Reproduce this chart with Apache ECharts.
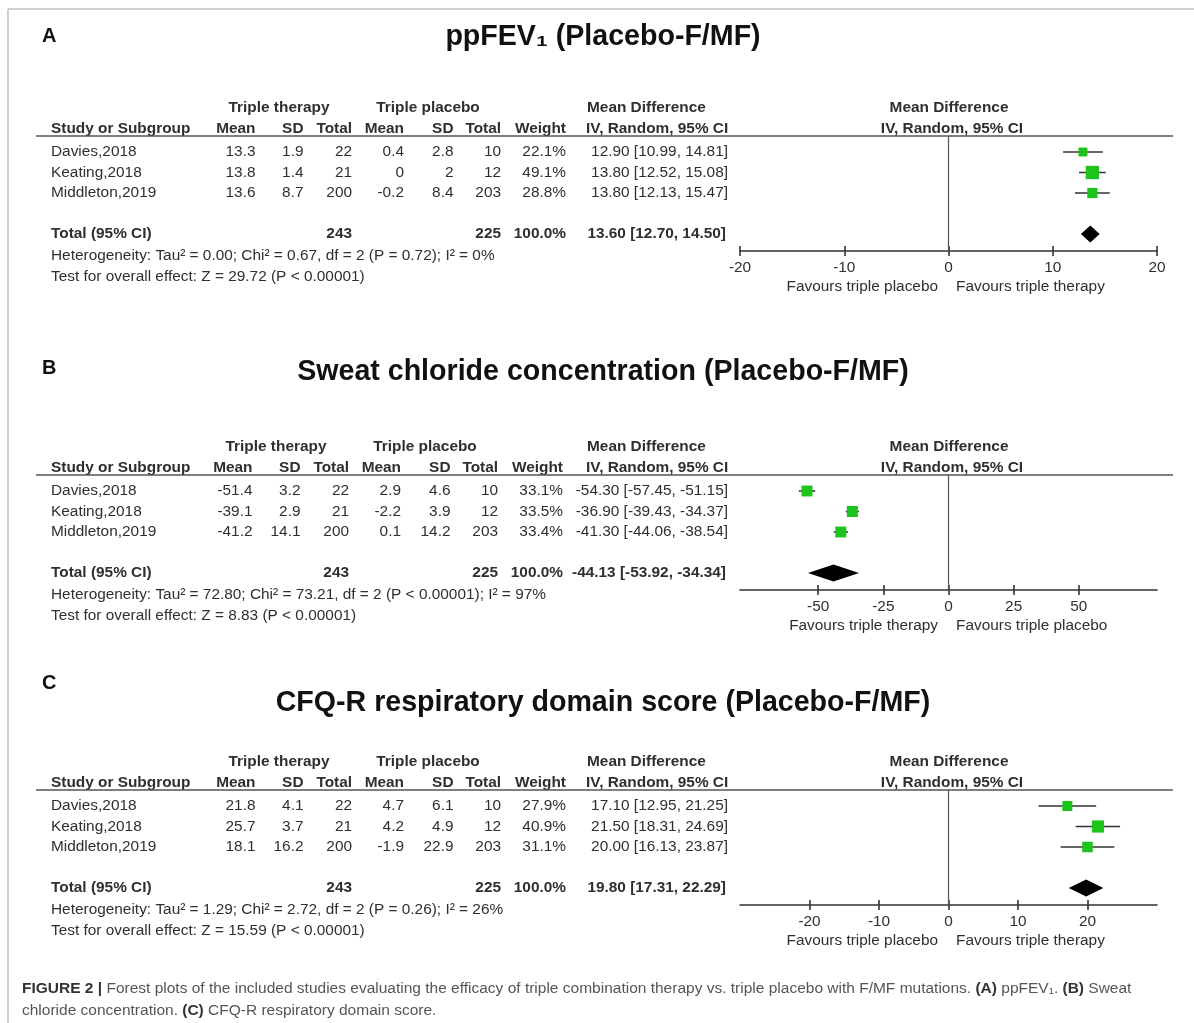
<!DOCTYPE html>
<html><head><meta charset="utf-8">
<script src="https://cdn.jsdelivr.net/npm/echarts@6/dist/echarts.min.js"></script>
<style>html,body{margin:0;padding:0;background:#fff}#c{width:1194px;height:1023px}</style>
</head><body><div id="c"></div><script>
// ---------- DATA ----------
const studies = ['Davies,2018', 'Keating,2018', 'Middleton,2019'];

// Panel A: ppFEV1
const aTitle = 'ppFEV\u2081 (Placebo-F/MF)';
const aTherapyMean = [13.3, 13.8, 13.6], aTherapySD = [1.9, 1.4, 8.7], aTherapyN = [22, 21, 200];
const aPlaceboMean = [0.4, 0, -0.2], aPlaceboSD = [2.8, 2, 8.4], aPlaceboN = [10, 12, 203];
const aWeight = [22.1, 49.1, 28.8];
const aMD = [12.90, 13.80, 13.80], aLow = [10.99, 12.52, 12.13], aHigh = [14.81, 15.08, 15.47];
const aTotalN = [243, 225], aTotalMD = [13.60, 12.70, 14.50];
const aHet = 'Heterogeneity: Tau\u00b2 = 0.00; Chi\u00b2 = 0.67, df = 2 (P = 0.72); I\u00b2 = 0%';
const aTest = 'Test for overall effect: Z = 29.72 (P < 0.00001)';
const aTicks = [-20, -10, 0, 10, 20], aRange = [-20, 20];
const aFavours = ['Favours triple placebo', 'Favours triple therapy'];

// Panel B: Sweat chloride
const bTitle = 'Sweat chloride concentration (Placebo-F/MF)';
const bTherapyMean = [-51.4, -39.1, -41.2], bTherapySD = [3.2, 2.9, 14.1], bTherapyN = [22, 21, 200];
const bPlaceboMean = [2.9, -2.2, 0.1], bPlaceboSD = [4.6, 3.9, 14.2], bPlaceboN = [10, 12, 203];
const bWeight = [33.1, 33.5, 33.4];
const bMD = [-54.30, -36.90, -41.30], bLow = [-57.45, -39.43, -44.06], bHigh = [-51.15, -34.37, -38.54];
const bTotalN = [243, 225], bTotalMD = [-44.13, -53.92, -34.34];
const bHet = 'Heterogeneity: Tau\u00b2 = 72.80; Chi\u00b2 = 73.21, df = 2 (P < 0.00001); I\u00b2 = 97%';
const bTest = 'Test for overall effect: Z = 8.83 (P < 0.00001)';
const bTicks = [-50, -25, 0, 25, 50], bRange = [-80, 80];
const bFavours = ['Favours triple therapy', 'Favours triple placebo'];

// Panel C: CFQ-R
const cTitle = 'CFQ-R respiratory domain score (Placebo-F/MF)';
const cTherapyMean = [21.8, 25.7, 18.1], cTherapySD = [4.1, 3.7, 16.2], cTherapyN = [22, 21, 200];
const cPlaceboMean = [4.7, 4.2, -1.9], cPlaceboSD = [6.1, 4.9, 22.9], cPlaceboN = [10, 12, 203];
const cWeight = [27.9, 40.9, 31.1];
const cMD = [17.10, 21.50, 20.00], cLow = [12.95, 18.31, 16.13], cHigh = [21.25, 24.69, 23.87];
const cTotalN = [243, 225], cTotalMD = [19.80, 17.31, 22.29];
const cHet = 'Heterogeneity: Tau\u00b2 = 1.29; Chi\u00b2 = 2.72, df = 2 (P = 0.26); I\u00b2 = 26%';
const cTest = 'Test for overall effect: Z = 15.59 (P < 0.00001)';
const cTicks = [-20, -10, 0, 10, 20], cRange = [-30, 30];
const cFavours = ['Favours triple placebo', 'Favours triple therapy'];

const panelLetters = ['A', 'B', 'C'];
const captionLine1 = '{b|FIGURE 2 |} Forest plots of the included studies evaluating the efficacy of triple combination therapy vs. triple placebo with F/MF mutations. {b|(A)} ppFEV\u2081. {b|(B)} Sweat';
const captionLine2 = 'chloride concentration. {b|(C)} CFQ-R respiratory domain score.';

// ---------- BUILD ----------
const FONT = '"Liberation Sans", Arial, Helvetica, sans-serif';
const TXT = '#2f2f2f';
const FS = 15.4;
const panels = [
  {title: aTitle, tm: aTherapyMean, ts: aTherapySD, tn: aTherapyN, pm: aPlaceboMean, ps: aPlaceboSD, pn: aPlaceboN,
   w: aWeight, md: aMD, lo: aLow, hi: aHigh, totN: aTotalN, tot: aTotalMD, het: aHet, test: aTest, ticks: aTicks, range: aRange, fav: aFavours,
   h1: 108, titleY: 37, letterY: 36, dx: 0},
  {title: bTitle, tm: bTherapyMean, ts: bTherapySD, tn: bTherapyN, pm: bPlaceboMean, ps: bPlaceboSD, pn: bPlaceboN,
   w: bWeight, md: bMD, lo: bLow, hi: bHigh, totN: bTotalN, tot: bTotalMD, het: bHet, test: bTest, ticks: bTicks, range: bRange, fav: bFavours,
   h1: 447, titleY: 372, letterY: 368, dx: -3},
  {title: cTitle, tm: cTherapyMean, ts: cTherapySD, tn: cTherapyN, pm: cPlaceboMean, ps: cPlaceboSD, pn: cPlaceboN,
   w: cWeight, md: cMD, lo: cLow, hi: cHigh, totN: cTotalN, tot: cTotalMD, het: cHet, test: cTest, ticks: cTicks, range: cRange, fav: cFavours,
   h1: 762, titleY: 703, letterY: 683, dx: 0}
];

const ROW = 20.5;
const graphics = [];
function T(x, y, text, o) {
  o = o || {};
  graphics.push({type: 'text', x: x, y: y, silent: true, scaleX: o.scaleX || 1,
    style: {text: text, fill: o.fill || TXT, fontSize: o.size || FS, fontFamily: FONT, fontWeight: o.bold ? 'bold' : 'normal',
      align: o.align || 'left', verticalAlign: 'middle', rich: o.rich}});
}
function L(x1, y1, x2, y2, color, width) {
  graphics.push({type: 'line', silent: true, shape: {x1, y1, x2, y2}, style: {stroke: color, lineWidth: width}});
}

// frame
L(8, 9, 1194, 9, '#cfcfcf', 2);
L(8, 9, 8, 1023, '#cfcfcf', 2);

const grids = [], xAxes = [], yAxes = [], series = [];
const colR = [255.5, 303.5, 352, 404, 453.5, 501, 566];
panels.forEach((p, i) => {
  const h1 = p.h1, dx = p.dx;
  T(42, p.letterY, panelLetters[i], {bold: true, size: 20, fill: '#111'});
  T(603, p.titleY, p.title, {bold: true, size: 28.6, align: 'center', fill: '#111'});
  // header rows
  T(279 + dx, h1, 'Triple therapy', {bold: true, align: 'center'});
  T(428 + dx, h1, 'Triple placebo', {bold: true, align: 'center'});
  T(587, h1, 'Mean Difference', {bold: true});
  T(949, h1, 'Mean Difference', {bold: true, align: 'center'});
  const h2 = h1 + 21;
  T(51, h2, 'Study or Subgroup', {bold: true});
  ['Mean', 'SD', 'Total', 'Mean', 'SD', 'Total', 'Weight'].forEach((s, k) => T(colR[k] + dx, h2, s, {bold: true, align: 'right'}));
  T(586, h2, 'IV, Random, 95% CI', {bold: true});
  T(952, h2, 'IV, Random, 95% CI', {bold: true, align: 'center'});
  L(36, h1 + 28, 1173, h1 + 28, '#555', 1.6);
  // rows
  studies.forEach((s, r) => {
    const y = h1 + 44 + r * ROW;
    T(51, y, s);
    const vals = [p.tm[r], p.ts[r], p.tn[r], p.pm[r], p.ps[r], p.pn[r]].map(String);
    vals.push(p.w[r].toFixed(1) + '%');
    vals.forEach((v, k) => T(colR[k] + dx, y, v, {align: 'right'}));
    T(728, y, p.md[r].toFixed(2) + ' [' + p.lo[r].toFixed(2) + ', ' + p.hi[r].toFixed(2) + ']', {align: 'right'});
  });
  const yt = h1 + 44 + 4 * ROW;
  T(51, yt, 'Total (95% CI)', {bold: true});
  T(colR[2] + dx, yt, String(p.totN[0]), {bold: true, align: 'right'});
  T(colR[5] + dx, yt, String(p.totN[1]), {bold: true, align: 'right'});
  T(colR[6] + dx, yt, '100.0%', {bold: true, align: 'right'});
  T(726, yt, p.tot[0].toFixed(2) + ' [' + p.tot[1].toFixed(2) + ', ' + p.tot[2].toFixed(2) + ']', {bold: true, align: 'right'});
  T(51, h1 + 148, p.het);
  T(51, h1 + 169, p.test);
  T(938, h1 + 179, p.fav[0], {align: 'right'});
  T(956, h1 + 179, p.fav[1]);

  // forest grid
  const top = h1 + 28, bottom = h1 + 143;
  grids.push({left: 740, width: 417, top: top, height: bottom - top});
  const yMin = -16 / ROW, yMax = (bottom - top - 16) / ROW;
  yAxes.push({gridIndex: i, type: 'value', inverse: true, min: yMin, max: yMax, show: false});
  const axisCommon = {gridIndex: i, type: 'value', min: p.range[0], max: p.range[1], position: 'bottom', offset: 0, splitLine: {show: false}};
  xAxes.push(Object.assign({}, axisCommon, {
    axisLine: {show: true, onZero: false, lineStyle: {color: '#333', width: 1.6}},
    axisTick: {show: true, inside: false, length: 5, customValues: p.ticks, lineStyle: {color: '#333', width: 1.6}},
    axisLabel: {show: true, customValues: p.ticks, margin: 9, fontSize: FS, color: TXT, fontFamily: FONT}
  }));
  xAxes.push(Object.assign({}, axisCommon, {
    axisLine: {show: false, onZero: false},
    axisTick: {show: true, inside: true, length: 5, customValues: p.ticks, lineStyle: {color: '#333', width: 1.6}},
    axisLabel: {show: false}
  }));
  const data = studies.map((s, r) => [p.md[r], r, p.lo[r], p.hi[r], p.w[r], 0]);
  data.push([p.tot[0], 4, p.tot[1], p.tot[2], 100, 1]);
  series.push({
    type: 'custom', xAxisIndex: 2 * i, yAxisIndex: i, data: data, silent: true, clip: false,
    renderItem: (params, api) => {
      const md = api.value(0), row = api.value(1), lo = api.value(2), hi = api.value(3), w = api.value(4), tot = api.value(5);
      const c = api.coord([md, row]), l = api.coord([lo, row]), h = api.coord([hi, row]);
      if (tot) {
        const hh = 8.5;
        return {type: 'polygon', shape: {points: [[l[0], c[1]], [c[0], c[1] - hh], [h[0], c[1]], [c[0], c[1] + hh]]}, style: {fill: '#000'}};
      }
      const sz = 1.9 * Math.sqrt(w);
      return {type: 'group', children: [
        {type: 'line', shape: {x1: l[0], y1: c[1], x2: h[0], y2: c[1]}, style: {stroke: '#333', lineWidth: 1.5}},
        {type: 'rect', shape: {x: c[0] - sz / 2, y: c[1] - sz / 2, width: sz, height: sz}, style: {fill: '#1cc41c'}}
      ]};
    },
    markLine: {silent: true, symbol: 'none', label: {show: false}, lineStyle: {color: '#555', width: 1.2, type: 'solid'},
      data: [{xAxis: 0}], animation: false}
  });
});

// caption
const capRich = {b: {fontWeight: 'bold', fontSize: 15.5, fontFamily: FONT, fill: '#333'}};
T(22, 989, captionLine1, {size: 15.5, fill: '#555', rich: capRich});
T(22, 1011, captionLine2, {size: 15.5, fill: '#555', rich: capRich});

const chart = echarts.init(document.getElementById('c'), null, {renderer: 'canvas'});
chart.setOption({
  backgroundColor: '#fff',
  animation: false,
  grid: grids, xAxis: xAxes, yAxis: yAxes, series: series,
  graphic: graphics
});
</script></body></html>
